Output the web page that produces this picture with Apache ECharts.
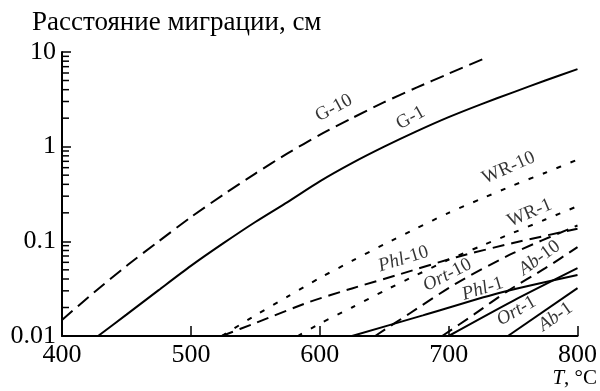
<!DOCTYPE html>
<html>
<head>
<meta charset="utf-8">
<script src="https://cdn.jsdelivr.net/npm/echarts@6/dist/echarts.min.js"></script>
<style>
  html, body { margin: 0; padding: 0; background: #fff; }
  #chart { width: 600px; height: 391px; }
</style>
</head>
<body>
<div id="chart"></div>
<script>
// Migration distance (cm) vs temperature (°C), log scale
const xTicks = [400, 500, 600, 700, 800];
const yTicks = [0.01, 0.1, 1, 10];
const yMinorTicks = [0.02, 0.03, 0.04, 0.05, 0.06, 0.07, 0.08, 0.09,
                     0.2, 0.3, 0.4, 0.5, 0.6, 0.7, 0.8, 0.9,
                     2, 3, 4, 5, 6, 7, 8, 9];

// [T, distance]
const g10   = [[400, 0.0148], [425, 0.029], [450, 0.055], [475, 0.1], [500, 0.18], [525, 0.31], [550, 0.52],
               [575, 0.85], [600, 1.33], [625, 2.0], [650, 2.95], [675, 4.2], [700, 5.9], [729, 8.7]];
const g1    = [[428, 0.01], [450, 0.0168], [475, 0.0305], [500, 0.055], [525, 0.095], [550, 0.16], [575, 0.26],
               [600, 0.43], [625, 0.67], [650, 1.0], [675, 1.45], [700, 2.05], [725, 2.8], [750, 3.75],
               [775, 5.0], [800, 6.6]];
const wr10  = [[524, 0.01], [550, 0.0165], [575, 0.026], [600, 0.041], [625, 0.062], [650, 0.093], [675, 0.137],
               [700, 0.2], [725, 0.28], [750, 0.39], [775, 0.53], [800, 0.73]];
const wr1   = [[583, 0.01], [600, 0.0135], [625, 0.02], [650, 0.03], [675, 0.044], [700, 0.064], [725, 0.089],
               [750, 0.123], [775, 0.17], [800, 0.235]];
const phl10 = [[524, 0.01], [550, 0.0137], [592, 0.0229], [625, 0.0318], [660, 0.044], [706, 0.068], [750, 0.096], [800, 0.136]];
const ort10 = [[643, 0.01], [670, 0.0174], [706, 0.036], [750, 0.075], [800, 0.147]];
const ab10  = [[695, 0.01], [720, 0.017], [746, 0.030], [775, 0.052], [800, 0.087]];
const phl1  = [[625, 0.01], [680, 0.0165], [737, 0.028], [800, 0.044]];
const ort1  = [[700, 0.01], [750, 0.0235], [800, 0.052]];
const ab1   = [[746, 0.01], [800, 0.032]];

// curve captions: text, T, distance, angle
const captions = [
  ['G-10', 611, 2.56, 28],
  ['G-1', 670.5, 2.01, 29],
  ['WR-10', 746.5, 0.596, 24],
  ['WR-1', 762.8, 0.199, 23],
  ['{i|Phl}-10', 665, 0.065, 17],
  ['{i|Ort}-10', 699, 0.0441, 27],
  ['{i|Phl}-1', 726.4, 0.0314, 17],
  ['{i|Ab}-10', 770.5, 0.0667, 36],
  ['{i|Ort}-1', 752.7, 0.0184, 30],
  ['{i|Ab}-1', 782.9, 0.0159, 35]
];

const SERIF = 'Liberation Serif';

function curve(name, data, type) {
  return {
    name: name,
    type: 'line',
    data: data,
    smooth: 0.25,
    showSymbol: false,
    silent: true,
    lineStyle: { color: '#000', width: 2, type: type, cap: 'butt' },
    z: 3
  };
}

const LONG_DASH = [14, 7];
const DASH = [12, 7];
const DOT = [5, 10];

const chart = echarts.init(document.getElementById('chart'), null, { renderer: 'canvas' });

chart.setOption({
  animation: false,
  backgroundColor: '#fff',
  textStyle: { fontFamily: SERIF },
  grid: { left: 62, right: 22, top: 52, bottom: 55 },
  xAxis: {
    type: 'value',
    min: xTicks[0],
    max: xTicks[xTicks.length - 1],
    interval: 100,
    axisLine: { lineStyle: { color: '#000', width: 2 } },
    axisTick: { inside: true, length: 10, lineStyle: { color: '#000', width: 1.5 } },
    axisLabel: { color: '#000', fontSize: 26, fontFamily: SERIF, margin: 6 },
    splitLine: { show: false }
  },
  yAxis: {
    type: 'log',
    logBase: 10,
    min: yTicks[0],
    max: yTicks[yTicks.length - 1],
    axisLine: { lineStyle: { color: '#000', width: 2 } },
    axisTick: { inside: true, length: 9, lineStyle: { color: '#000', width: 1.5 } },
    axisLabel: {
      color: '#000', fontSize: 26, fontFamily: SERIF, margin: 6,
      formatter: function (v) {
        const hit = yTicks.find(t => Math.abs(Math.log10(t) - Math.log10(v)) < 1e-6);
        return hit === undefined ? '' : String(hit);
      }
    },
    splitLine: { show: false },
    minorTick: { show: false }
  },
  graphic: [
    {
      type: 'text', left: 32, top: 9,
      style: { text: 'Расстояние миграции, см', fontSize: 27, fontFamily: SERIF, fill: '#000' }
    },
    {
      type: 'text', right: 3, top: 368,
      style: {
        text: '{i|T}, °C',
        fontSize: 21, fontFamily: SERIF, fill: '#000',
        rich: { i: { fontStyle: 'italic', fontSize: 21, fontFamily: SERIF } }
      }
    }
  ],
  series: [
    curve('G-10', g10, LONG_DASH),
    curve('G-1', g1, 'solid'),
    curve('WR-10', wr10, DOT),
    curve('WR-1', wr1, DOT),
    curve('Phl-10', phl10, DASH),
    curve('Ort-10', ort10, DASH),
    curve('Ab-10', ab10, DASH),
    curve('Phl-1', phl1, 'solid'),
    curve('Ort-1', ort1, 'solid'),
    curve('Ab-1', ab1, 'solid'),
    {
      // minor ticks of the log axis at 2..9 of each decade
      type: 'custom',
      silent: true,
      data: yMinorTicks.map(v => [xTicks[0], v]),
      renderItem: function (params, api) {
        const p = api.coord([api.value(0), api.value(1)]);
        return {
          type: 'line',
          shape: { x1: p[0], y1: p[1], x2: p[0] + 7, y2: p[1] },
          style: { stroke: '#000', lineWidth: 1.5 }
        };
      },
      clip: false,
      z: 4
    },
    {
      type: 'scatter',
      silent: true,
      symbolSize: 0,
      data: captions.map(c => ({
        value: [c[1], c[2]],
        label: {
          show: true,
          position: 'inside',
          rotate: c[3],
          formatter: c[0],
          color: '#000',
          fontSize: 19,
          fontFamily: SERIF,
          rich: { i: { fontStyle: 'italic', fontSize: 19, fontFamily: SERIF, color: '#000' } }
        }
      })),
      z: 5
    }
  ]
});
</script>
</body>
</html>
